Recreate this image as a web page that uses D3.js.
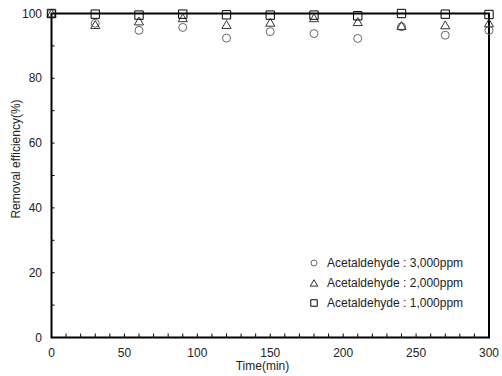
<!DOCTYPE html>
<html>
<head>
<meta charset="utf-8">
<script src="https://cdn.jsdelivr.net/npm/d3@7"></script>
<style>
  body { margin: 0; background: #fff; }
  text { font-family: "Liberation Sans", Arial, sans-serif; }
</style>
</head>
<body>
<svg id="chart" width="502" height="376"></svg>
<script>
// data
var times = [0, 30, 60, 90, 120, 150, 180, 210, 240, 270, 300];
var ppm3000 = [100, 97, 94.8, 95.7, 92.4, 94.4, 93.8, 92.3, 95.9, 93.3, 94.8];
var ppm2000 = [100, 96.5, 97.6, 98.6, 96.5, 97.2, 98.6, 97.4, 96.2, 96.4, 97];
var ppm1000 = [100, 99.8, 99.5, 99.8, 99.6, 99.5, 99.5, 99.3, 100, 99.8, 99.7];
var xTicks = [0, 50, 100, 150, 200, 250, 300];
var yTicks = [0, 20, 40, 60, 80, 100];
var legendLabels = ["Acetaldehyde : 3,000ppm", "Acetaldehyde : 2,000ppm", "Acetaldehyde : 1,000ppm"];

var svg = d3.select("#chart");
var pLeft = 51.5, pRight = 489, pTop = 13.5, pBottom = 337.5; // plot box

var x = d3.scaleLinear().domain([0, 300]).range([pLeft, pRight]);
var y = d3.scaleLinear().domain([0, 100]).range([pBottom, pTop]);

// minor ticks (inside)
var g = svg.append("g");
d3.range(0, 301, 10).forEach(function(t){
  g.append("line").attr("x1", x(t)).attr("x2", x(t))
    .attr("y1", pBottom).attr("y2", pBottom - 4)
    .attr("stroke", "#000").attr("stroke-width", 1);
});
d3.range(0, 101, 10).forEach(function(t){
  g.append("line").attr("x1", pLeft).attr("x2", pLeft + 3)
    .attr("y1", y(t)).attr("y2", y(t))
    .attr("stroke", "#000").attr("stroke-width", 1);
});

// tick labels
xTicks.forEach(function(t){
  svg.append("text").attr("x", x(t)).attr("y", 357)
    .attr("text-anchor", "middle").attr("font-size", 12).attr("fill", "#222").text(t);
});
yTicks.forEach(function(t){
  svg.append("text").attr("x", 42).attr("y", y(t) + 4)
    .attr("text-anchor", "end").attr("font-size", 12).attr("fill", "#222").text(t);
});

// frame
svg.append("rect").attr("x", pLeft).attr("y", pTop)
  .attr("width", pRight - pLeft).attr("height", pBottom - pTop)
  .attr("fill", "none").attr("stroke", "#000").attr("stroke-width", 2);

// axis titles
svg.append("text").attr("x", 262.5).attr("y", 370).attr("text-anchor", "middle")
  .attr("font-size", 12).attr("fill", "#222").text("Time(min)");
svg.append("text").attr("transform", "translate(20,159) rotate(-90)")
  .attr("text-anchor", "middle").attr("font-size", 12).attr("fill", "#222")
  .text("Removal efficiency(%)");

// markers
var symCircle = d3.symbol().type(d3.symbolCircle).size(50);
var symTri = d3.symbol().type(d3.symbolTriangle).size(36);
var symSquare = d3.symbol().type(d3.symbolSquare).size(70);

function drawSeries(vals, sym, color, dy){
  svg.append("g").selectAll("path").data(vals).join("path")
    .attr("transform", function(d, i){ return "translate(" + x(times[i]) + "," + (y(d) + dy) + ")"; })
    .attr("d", sym)
    .attr("fill", "none").attr("stroke", color).attr("stroke-width", 1);
}
drawSeries(ppm3000, symCircle, "#666", 0);
drawSeries(ppm2000, symTri, "#333", 1);
drawSeries(ppm1000, symSquare, "#000", 0);

// legend
var legCols = ["#666", "#333", "#000"];
legendLabels.forEach(function(lab, i){
  var ly = 263 + i * 20;
  svg.append("path").attr("transform", "translate(314," + (ly + (i == 1 ? 1 : 0)) + ")")
    .attr("d", i == 0 ? d3.symbol().type(d3.symbolCircle).size(28)()
             : i == 1 ? d3.symbol().type(d3.symbolTriangle).size(24)()
             : d3.symbol().type(d3.symbolSquare).size(42)())
    .attr("fill", "none").attr("stroke", legCols[i]).attr("stroke-width", 1);
  svg.append("text").attr("x", 327).attr("y", ly + 4).attr("font-size", 12)
    .attr("fill", "#222").text(lab);
});
</script>
</body>
</html>
